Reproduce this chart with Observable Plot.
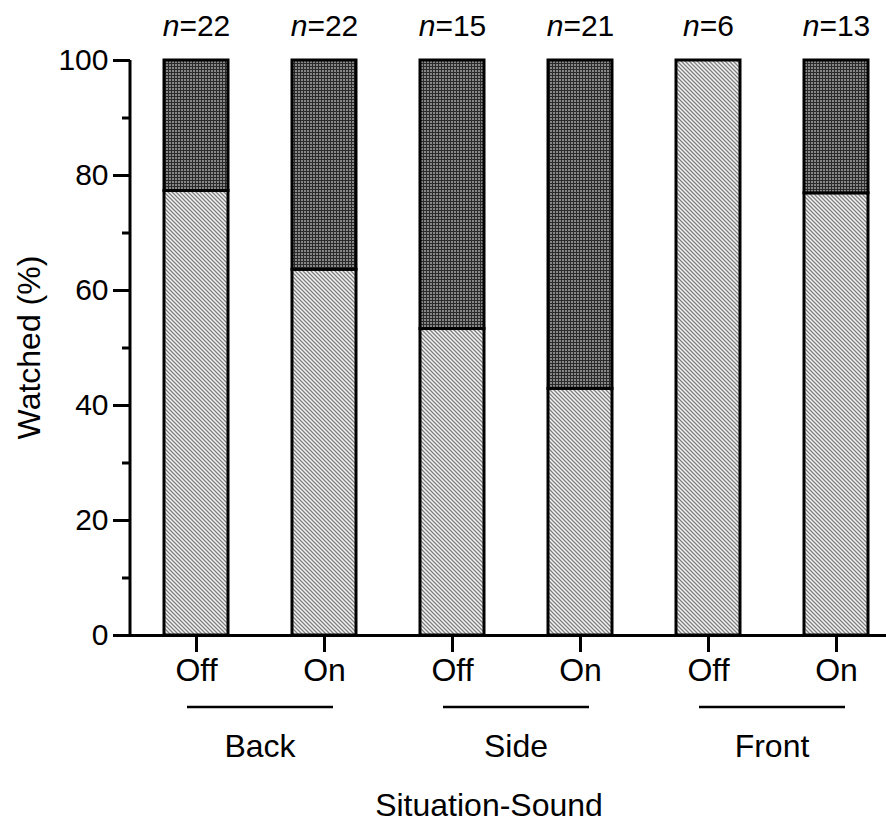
<!DOCTYPE html>
<html>
<head>
<meta charset="utf-8">
<script src="https://cdn.jsdelivr.net/npm/d3@7"></script>
<script src="https://cdn.jsdelivr.net/npm/@observablehq/plot@0.6"></script>
<style>
  body { margin: 0; background: #fff; }
  #chart svg { display: block; }
</style>
</head>
<body>
<div id="chart"></div>
<script>
const groups = ["Back", "Side", "Front"];
const sounds = ["Off", "On"];
const nValues = [22, 22, 15, 21, 6, 13];
const watchedPct = [77.3, 63.6, 53.3, 42.9, 100, 76.9];
const notWatchedPct = [22.7, 36.4, 46.7, 57.1, 0, 23.1];
const yMajorTicks = [0, 20, 40, 60, 80, 100];
const yMinorTicks = [10, 30, 50, 70, 90];
const yTitle = "Watched (%)";
const xTitle = "Situation-Sound";

const keys = groups.flatMap(g => sounds.map(s => g + "|" + s));
const rows = [];
keys.forEach((k, i) => {
  rows.push({key: k, status: "watched", value: watchedPct[i]});
  rows.push({key: k, status: "not", value: notWatchedPct[i]});
});
const nRows = keys.map((k, i) => ({key: k, n: nValues[i], top: 100}));

const FONT = "'Liberation Sans', Arial, Helvetica, sans-serif";

const plot = Plot.plot({
  width: 886,
  height: 824,
  marginTop: 60,
  marginBottom: 189,
  marginLeft: 130,
  marginRight: 0,
  style: {fontFamily: FONT, fontSize: "30px", color: "#000", background: "#fff"},
  x: {type: "band", domain: keys, range: [130, 868], paddingInner: 0.5, paddingOuter: 0.1328, align: 1},
  y: {domain: [0, 100]},
  color: {domain: ["watched", "not"], range: ["url(#hatch)", "url(#dots)"]},
  marks: [
    Plot.barY(rows, Plot.stackY({x: "key", y: "value", fill: "status", stroke: "#000", strokeWidth: 3, inset: 0})),
    Plot.ruleY([0], {strokeWidth: 3, stroke: "#000"}),
    Plot.axisY({ticks: yMajorTicks, tickSize: 17, tickPadding: 5, fontSize: 30, strokeWidth: 3, label: null}),
    Plot.axisY({ticks: yMinorTicks, tickSize: 8, tickFormat: () => "", strokeWidth: 3, label: null}),
    Plot.axisX({tickSize: 17, tickPadding: 6, fontSize: 32, strokeWidth: 3,
      tickFormat: k => k.split("|")[1], label: null}),
    Plot.text(nRows, {x: "key", y: "top", text: d => "n=" + d.n, dy: -25, fontSize: 30, lineAnchor: "bottom", className: "nlabel"})
  ]
});

const svg = d3.select(plot);
const defs = svg.insert("defs", ":first-child");
const hatch = defs.append("pattern").attr("id", "hatch").attr("patternUnits", "userSpaceOnUse")
  .attr("width", 4).attr("height", 4);
hatch.append("rect").attr("width", 4).attr("height", 4).attr("fill", "#f4f4f4");
hatch.append("path").attr("d", "M-1,-1L5,5M-1,3L1,5M3,-1L5,1").attr("stroke", "#808080").attr("stroke-width", 1.3);
const dots = defs.append("pattern").attr("id", "dots").attr("patternUnits", "userSpaceOnUse")
  .attr("width", 3).attr("height", 3);
dots.append("rect").attr("width", 3).attr("height", 3).attr("fill", "#878787");
dots.append("path").attr("d", "M0,0.5H3M0.5,0V3").attr("stroke", "#2a2a2a").attr("stroke-width", 1);

// italic n in labels
svg.selectAll("g.nlabel text").each(function() {
  const t = d3.select(this);
  const s = t.text();
  t.text("");
  t.append("tspan").attr("font-style", "italic").text("n");
  t.append("tspan").text(s.slice(1));
});

const x = plot.scale("x");
const y = plot.scale("y");
const xs = k => x.apply(k) + x.bandwidth / 2;

// y axis line
svg.append("line")
  .attr("x1", 130).attr("x2", 130)
  .attr("y1", y.apply(0) + 1.5).attr("y2", y.apply(100))
  .attr("stroke", "#000").attr("stroke-width", 3);

// group lines and labels
groups.forEach(g => {
  const a = xs(g + "|" + sounds[0]);
  const b = xs(g + "|" + sounds[1]);
  svg.append("line")
    .attr("x1", a - 9).attr("x2", b + 9)
    .attr("y1", 707).attr("y2", 707)
    .attr("stroke", "#000").attr("stroke-width", 2.5);
  svg.append("text")
    .attr("x", (a + b) / 2).attr("y", 757)
    .attr("text-anchor", "middle")
    .attr("font-family", FONT).attr("font-size", 32)
    .attr("fill", "#000")
    .text(g);
});

// axis titles
svg.append("text")
  .attr("x", 489).attr("y", 816)
  .attr("text-anchor", "middle")
  .attr("font-family", FONT).attr("font-size", 32)
  .attr("fill", "#000")
  .text(xTitle);
svg.append("text")
  .attr("transform", `translate(40,${(y.apply(0) + y.apply(100)) / 2}) rotate(-90)`)
  .attr("text-anchor", "middle")
  .attr("font-family", FONT).attr("font-size", 32)
  .attr("fill", "#000")
  .text(yTitle);

document.getElementById("chart").appendChild(plot);
</script>
</body>
</html>
